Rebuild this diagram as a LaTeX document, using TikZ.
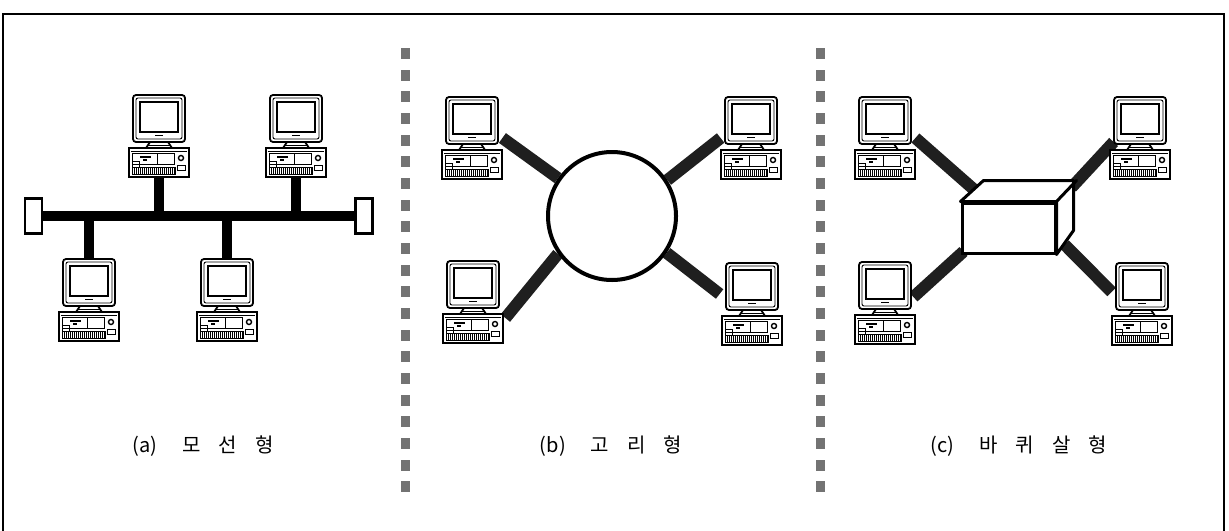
\documentclass[tikz,border=0pt]{standalone}
\usepackage{fontspec}
\newfontfamily\krfont{Noto Sans CJK KR}
\usetikzlibrary{calc,backgrounds}

\tikzset{
  pcline/.style={line width=0.9pt},
  frameline/.style={line width=1pt},
  busline/.style={line width=5pt},
  dropline/.style={line width=5pt},
  spoke/.style={line width=6pt, black!88},
  terminator/.style={draw, line width=1.2pt, fill=white, minimum width=8.5pt,
    minimum height=17.5pt, inner sep=0pt},
  ringnode/.style={circle, draw, line width=2pt, fill=white, minimum size=64pt, inner sep=0pt},
  hubnode/.style={rectangle, draw, line width=1.5pt, fill=white, minimum width=46.5pt,
    minimum height=25pt, inner sep=0pt},
  sepdot/.style={fill=black!55},
  caption/.style={font=\krfont\fontsize{10pt}{12pt}\selectfont, inner sep=0pt},
  % desktop computer: monitor on a stand over a system unit
  computer/.pic={
    \node[minimum width=30pt, minimum height=41pt, inner sep=0pt] (-box) at (0,41) {};
    \draw[pcline, fill=white, rounded corners=1.5pt] (-26,0) rectangle (26,47);
    \draw[line width=0.45pt, rounded corners=1pt] (-23,3) rectangle (23,44);
    \draw[line width=1.3pt, fill=white] (-19,7) rectangle (19,37);
    \draw[line width=0.5pt] (-4,40.5) -- (4,40.5);
    \draw[pcline, fill=white] (-9,47) -- (9,47) -- (13,53) -- (-13,53) -- cycle;
    \draw[line width=0.4pt] (-11,50) -- (11,50);
    \draw[pcline, fill=white] (-30,53) rectangle (30,82);
    \draw[line width=0.4pt] (-28,56) -- (28,56);
    \draw[line width=0.5pt] (-27,58) rectangle (-2,69);
    \draw[line width=0.9pt] (-19,62) -- (-8,62);
    \draw[line width=0.6pt] (-16,65) -- (-12,65);
    \draw[line width=0.5pt] (-2,58) rectangle (15,69);
    \draw[line width=0.7pt] (22,63) circle (2.5);
    \draw[line width=0.4pt] (18,70) rectangle (26,75);
    \draw[line width=0.5pt] (-27,66) rectangle (-20,72);
    \draw[line width=0.5pt] (-27,72) rectangle (16,79);
    \foreach \i in {-25,-23,...,15} \draw[line width=0.35pt] (\i,72) -- (\i,79);
  }
}

\begin{document}
\begin{tikzpicture}[x=0.5pt,y=-0.5pt]
  \useasboundingbox (0,0) rectangle (1229,530);

  % outer frame, open at the bottom edge of the page
  \draw[frameline] (3,545) -- (3,14) -- (1224,14) -- (1224,545);

  % dotted separators between the three panels
  \foreach \y in {0,...,20} {
    \fill[sepdot] (401,48+\y*21.67) rectangle (410,59+\y*21.67);
    \fill[sepdot] (816,48+\y*21.67) rectangle (825,59+\y*21.67);
  }

  % ---------- (a) bus ----------
  \node[terminator] (tl) at (33.5,216) {};
  \node[terminator] (tr) at (364,216) {};
  \pic (a1) at (159,95) {computer};
  \pic (a2) at (296,95) {computer};
  \pic (a3) at (89,259) {computer};
  \pic (a4) at (227,259) {computer};
  \begin{scope}[on background layer]
    \draw[busline] (tl.east) -- (tr.west);
    \draw[dropline] (a1-box.south) -- (a1-box.south |- tl.center);
    \draw[dropline] (a2-box.south) -- (a2-box.south |- tl.center);
    \draw[dropline] (a3-box.north) -- (a3-box.north |- tl.center);
    \draw[dropline] (a4-box.north) -- (a4-box.north |- tl.center);
  \end{scope}
  \node[caption] (capa) at (203,446) {(a)\hspace{1.25em}모\hspace{0.9em}선\hspace{0.9em}형};

  % ---------- (b) ring ----------
  \node[ringnode] (ring) at (612,216) {};
  \pic (b1) at (472,97) {computer};
  \pic (b2) at (751,97) {computer};
  \pic (b3) at (473,261) {computer};
  \pic (b4) at (752,263) {computer};
  \begin{scope}[on background layer]
    \draw[spoke] (b1-box.east) -- (ring.145);
    \draw[spoke] (b2-box.west) -- (ring.33);
    \draw[spoke] ($(b3-box.east)+(2,16)$) -- (ring.215);
    \draw[spoke] ($(b4-box.west)+(-2,-10)$) -- (ring.-34);
  \end{scope}
  \node[caption] (capb) at (611,446) {(b)\hspace{1.25em}고\hspace{0.9em}리\hspace{0.9em}형};

  % ---------- (c) star ----------
  \node[hubnode] (hub) at (1008.5,228) {};
  \draw[line width=1.5pt, fill=white, line join=round]
    (hub.north west) -- ++(23,-21) -- ++(90,0) -- ++(0,50) -- (hub.south east)
    -- (hub.north east) -- cycle;
  \draw[line width=1.5pt, line cap=round] (hub.north east) -- ++(20,-21);
  \pic (c1) at (885,97) {computer};
  \pic (c2) at (1140,97) {computer};
  \pic (c3) at (885,262) {computer};
  \pic (c4) at (1142,263) {computer};
  \begin{scope}[on background layer]
    \draw[spoke] (c1-box.east) -- ($(hub.north west)+(18,-8)$);
    \draw[spoke] ($(hub.north east)+(15,-14)$) -- ($(c2-box.west)+(4,4)$);
    \draw[spoke] ($(c3-box.east)+(-2,-6)$) -- ($(hub.south west)+(3,-3)$);
    \draw[spoke] ($(hub.south east)+(8,-10)$) -- ($(c4-box.west)+(0,-12)$);
  \end{scope}
  \node[caption] (capc) at (1019,446) {(c)\hspace{1.25em}바\hspace{0.9em}퀴\hspace{0.9em}살\hspace{0.9em}형};
\end{tikzpicture}
\end{document}
